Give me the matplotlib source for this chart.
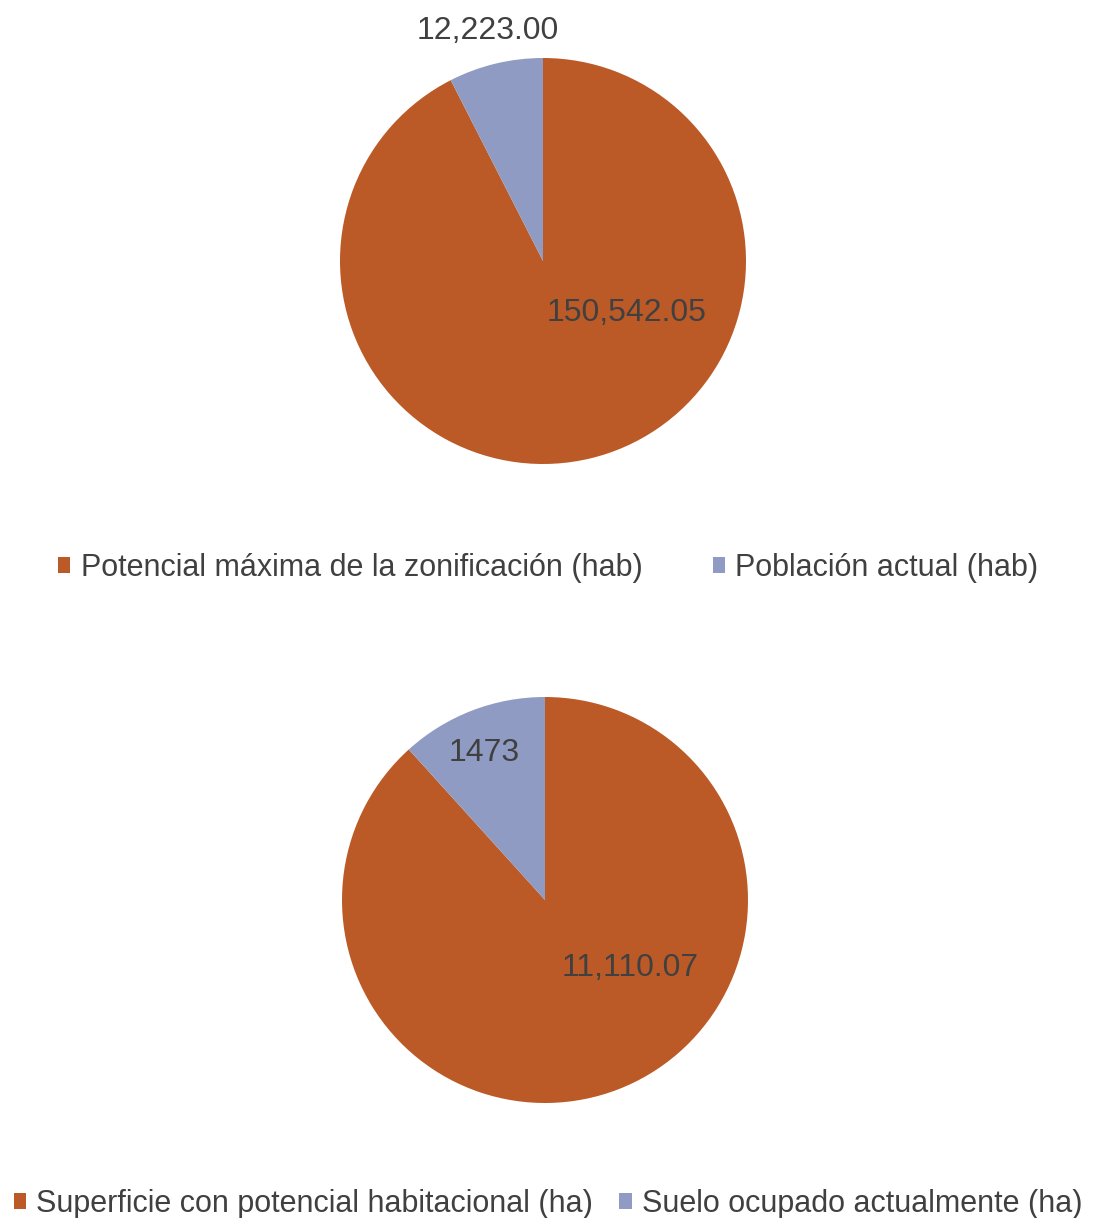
import matplotlib
matplotlib.use("Agg")
import matplotlib.pyplot as plt
from matplotlib.patches import Patch

plt.rcParams["font.family"] = ["Liberation Sans", "DejaVu Sans"]

# data
pop_labels = ["Potencial máxima de la zonificación (hab)", "Población actual (hab)"]
pop_values = [150542.05, 12223.00]
pop_texts = ["150,542.05", "12,223.00"]

sup_labels = ["Superficie con potencial habitacional (ha)", "Suelo ocupado actualmente (ha)"]
sup_values = [11110.07, 1473]
sup_texts = ["11,110.07", "1473"]

colors = ["#BC5A27", "#8F9BC3"]
txt_color = "#404040"

W, H = 1094, 1218
fig = plt.figure(figsize=(W / 100, H / 100), dpi=100)


def px_axes(left, top, size):
    return fig.add_axes([left / W, (H - top - size) / H, size / W, size / H])


def draw_pie(ax, values, texts, text_pos):
    ax.pie(values, colors=colors, startangle=90, counterclock=False,
           radius=1, wedgeprops=dict(linewidth=0))
    ax.set_xlim(-1, 1)
    ax.set_ylim(-1, 1)
    ax.set_aspect("equal")
    ax.axis("off")
    for t, (x, y) in zip(texts, text_pos):
        ax.text(x, y, t, ha="center", va="center", fontsize=23,
                color=txt_color, clip_on=False)


ax1 = px_axes(340, 58, 406)
draw_pie(ax1, pop_values, pop_texts, [(0.41, -0.255), (-0.27, 1.135)])

ax2 = px_axes(342, 697, 406)
draw_pie(ax2, sup_values, sup_texts, [(0.42, -0.335), (-0.30, 0.725)])


def legend(labels, y, spacing):
    handles = [Patch(facecolor=c, edgecolor="none") for c in colors]
    fig.legend(handles, labels, loc="center", bbox_to_anchor=(0.501, 1 - y / H),
               ncol=2, frameon=False, fontsize=22, handlelength=0.42,
               handleheight=0.42, handletextpad=0.33, columnspacing=spacing,
               labelcolor=txt_color)


legend(pop_labels, 568, 2.3)
legend(sup_labels, 1204, 0.85)

fig.savefig("out.png", dpi=100, facecolor="white")
